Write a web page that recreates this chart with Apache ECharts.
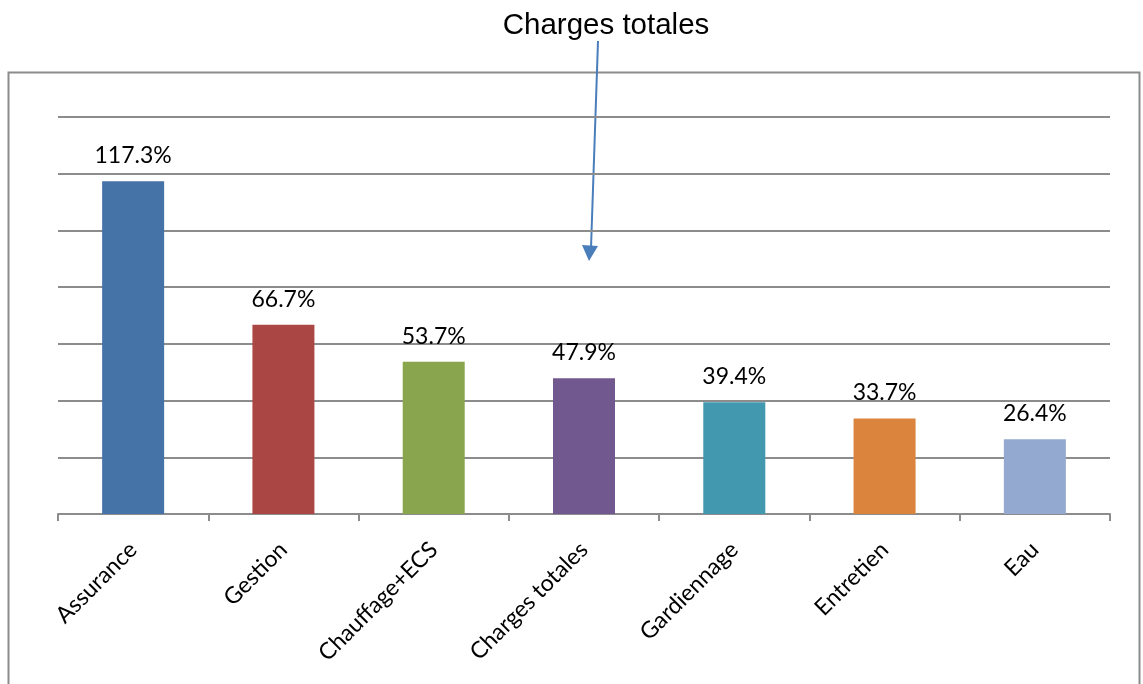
<!DOCTYPE html>
<html>
<head>
<meta charset="utf-8">
<script src="https://cdn.jsdelivr.net/npm/echarts@6/dist/echarts.min.js"></script>
<style>
  html, body { margin: 0; padding: 0; background: #fff; }
  #chart { width: 1143px; height: 684px; }
</style>
</head>
<body>
<div id="chart"></div>
<script>
// catégories et valeurs (%)
var categories = ['Assurance', 'Gestion', 'Chauffage+ECS', 'Charges totales', 'Gardiennage', 'Entretien', 'Eau'];
var values = [117.3, 66.7, 53.7, 47.9, 39.4, 33.7, 26.4];
var barColors = ['#4572A7', '#AA4643', '#89A54E', '#71588F', '#4198AF', '#DB843D', '#93A9CF'];

var myChart = echarts.init(document.getElementById('chart'));
myChart.setOption({
  animation: false,
  title: {
    text: 'Charges totales',
    left: 601,
    top: 6,
    textAlign: 'center',
    textStyle: {
      fontFamily: 'Liberation Sans',
      fontSize: 29.5,
      fontWeight: 'normal',
      color: '#000'
    }
  },
  grid: {
    left: 58,
    right: 33,
    top: 117,
    bottom: 170
  },
  xAxis: {
    type: 'category',
    data: categories,
    axisLine: { lineStyle: { color: '#8c8c8c', width: 2 } },
    axisTick: { show: true, length: 7, lineStyle: { color: '#8c8c8c', width: 2 } },
    axisLabel: {
      rotate: 45,
      margin: 32,
      fontFamily: 'Lato',
      fontSize: 23,
      color: '#000'
    }
  },
  yAxis: {
    type: 'value',
    min: 0,
    max: 140,
    interval: 20,
    axisLine: { show: false },
    axisTick: { show: false },
    axisLabel: { show: false },
    splitLine: { lineStyle: { color: '#8c8c8c', width: 2 } }
  },
  series: [{
    type: 'bar',
    barWidth: 62,
    data: values.map(function (v, i) {
      return { value: v, itemStyle: { color: barColors[i] } };
    }),
    label: {
      show: true,
      position: 'top',
      distance: 14,
      fontFamily: 'Lato',
      fontSize: 23,
      color: '#000',
      formatter: function (p) { return p.value.toFixed(1) + '%'; }
    }
  }],
  graphic: [
    {
      type: 'rect',
      shape: { x: 8.5, y: 72.5, width: 1131, height: 620 },
      style: { fill: 'none', stroke: '#8c8c8c', lineWidth: 2 },
      silent: true
    },
    {
      type: 'line',
      shape: { x1: 598, y1: 41, x2: 591, y2: 248 },
      style: { stroke: '#4a7ebb', lineWidth: 2 },
      silent: true
    },
    {
      type: 'polygon',
      shape: { points: [[582, 245], [598, 246], [589, 261]] },
      style: { fill: '#4a7ebb' },
      silent: true
    }
  ]
});
</script>
</body>
</html>
